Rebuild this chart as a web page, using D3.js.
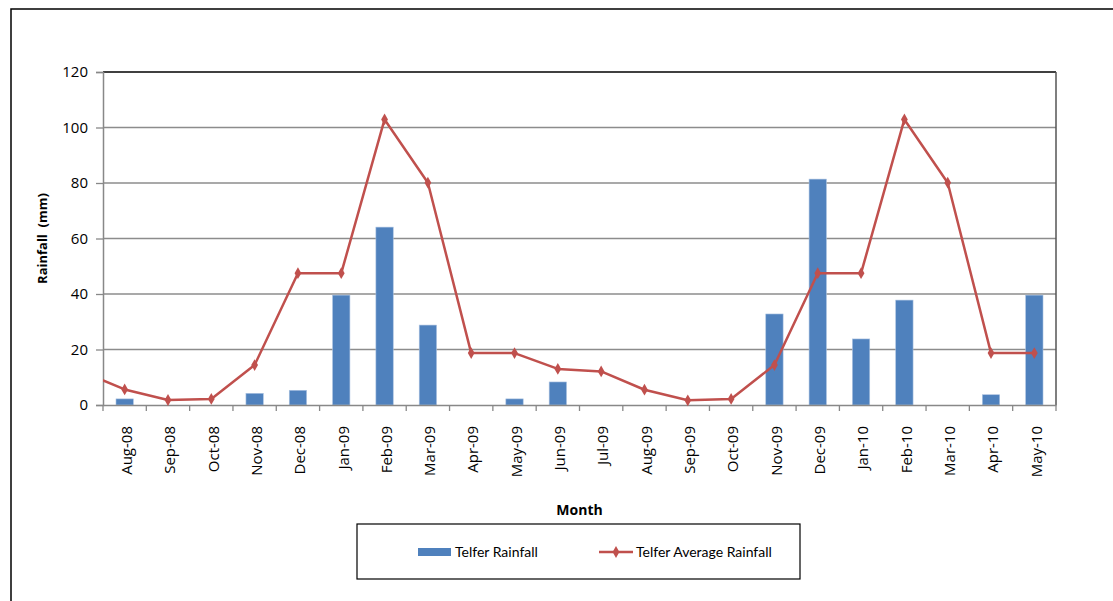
<!DOCTYPE html>
<html><head><meta charset="utf-8">
<script src="https://cdn.jsdelivr.net/npm/d3@7"></script>
<style>
html,body{margin:0;padding:0;background:#fff;}
svg{display:block;font-family:Lato,"Open Sans",sans-serif;}
</style></head>
<body>
<script>
const months = ["Aug-08","Sep-08","Oct-08","Nov-08","Dec-08","Jan-09","Feb-09","Mar-09","Apr-09","May-09","Jun-09","Jul-09","Aug-09","Sep-09","Oct-09","Nov-09","Dec-09","Jan-10","Feb-10","Mar-10","Apr-10","May-10"];
const telferRainfall = [2.2,0,0,4.2,5.3,39.6,64.1,28.8,0,2.2,8.3,0,0,0,0,32.8,81.4,23.8,37.8,0,3.7,39.6];
// average series includes one leading month (Jul-08) that falls outside the plot and is clipped
const avgMonths = ["Jul-08"].concat(months);
const telferAverage = [12.1,5.6,1.8,2.2,14.4,47.5,47.5,102.9,80.1,18.7,18.7,13.0,12.1,5.5,1.7,2.2,14.4,47.5,47.5,102.9,80.1,18.7,18.7];
const yTicks = [0,20,40,60,80,100,120];
const seriesNames = ["Telfer Rainfall","Telfer Average Rainfall"];

const W = 1113, H = 601;
const m = {left:103, top:72, right:1056, bottom:405};
const svg = d3.select("body").append("svg").attr("width",W).attr("height",H);

// outer chart border
svg.append("rect").attr("x",11).attr("y",9).attr("width",W+20).attr("height",H+20)
  .attr("fill","none").attr("stroke","#000").attr("stroke-width",1.5);

const x = d3.scaleBand().domain(months).range([m.left,m.right]).padding(0);
const xi = d3.scaleLinear().domain([-0.5, months.length-0.5]).range([m.left,m.right]);
const y = d3.scaleLinear().domain([0,120]).range([m.bottom,m.top]);

// gridlines
svg.append("g").selectAll("line").data(yTicks.filter(d=>d>0&&d<120)).join("line")
  .attr("x1",m.left).attr("x2",m.right).attr("y1",d=>y(d)).attr("y2",d=>y(d))
  .attr("stroke","#8c8c8c").attr("stroke-width",1.3);

// plot border top (black) and right (dark gray)
svg.append("line").attr("x1",m.left).attr("x2",m.right).attr("y1",y(120)).attr("y2",y(120))
  .attr("stroke","#000").attr("stroke-width",1.5);
svg.append("line").attr("x1",m.right).attr("x2",m.right).attr("y1",m.top).attr("y2",m.bottom)
  .attr("stroke","#555").attr("stroke-width",1.5);

// bars
const bw = x.bandwidth()*0.4;
svg.append("g").selectAll("rect").data(months).join("rect")
  .attr("x",(d)=>x(d)+x.bandwidth()/2-bw/2)
  .attr("y",(d,i)=>y(telferRainfall[i]))
  .attr("width",bw)
  .attr("height",(d,i)=>y(0)-y(telferRainfall[i]))
  .attr("fill","#4F81BD").attr("stroke","#a9c1e0").attr("stroke-width",0.6)
  .attr("display",(d,i)=>telferRainfall[i]>0?null:"none");

// y axis
const yAxis = svg.append("g").attr("transform",`translate(${m.left},0)`)
  .call(d3.axisLeft(y).tickValues(yTicks).tickSize(7).tickPadding(8));
yAxis.select(".domain").attr("stroke","#888").attr("stroke-width",1.5);
yAxis.selectAll(".tick line").attr("stroke","#888").attr("stroke-width",1.3);
yAxis.selectAll(".tick text").attr("font-size",15).attr("fill","#000").attr("font-family","Open Sans");

// x axis
const xAxis = svg.append("g").attr("transform",`translate(0,${m.bottom})`)
  .call(d3.axisBottom(x).tickSize(0));
xAxis.select(".domain").attr("stroke","#888").attr("stroke-width",1.5);
xAxis.selectAll(".tick text").attr("font-size",15).attr("fill","#000").attr("font-family","Open Sans")
  .attr("transform","rotate(-90)").attr("text-anchor","end").attr("dy","0.35em")
  .attr("x",-21).attr("y",2);
// boundary ticks
svg.append("g").selectAll("line").data(d3.range(months.length+1)).join("line")
  .attr("x1",d=>xi(d-0.5)).attr("x2",d=>xi(d-0.5)).attr("y1",m.bottom).attr("y2",m.bottom+6)
  .attr("stroke","#888").attr("stroke-width",1.3);

// clip
svg.append("clipPath").attr("id","clip").append("rect")
  .attr("x",m.left).attr("y",m.top-10).attr("width",m.right-m.left).attr("height",m.bottom-m.top+20);

// line
const lg = svg.append("g").attr("clip-path","url(#clip)");
const line = d3.line().x((d,i)=>xi(i-1)).y(d=>y(d));
lg.append("path").datum(telferAverage).attr("d",line)
  .attr("fill","none").attr("stroke","#C0504D").attr("stroke-width",2.5).attr("stroke-linejoin","round");
const sym = d3.symbol().type(d3.symbolDiamond).size(40);
lg.selectAll("path.mk").data(telferAverage).join("path").attr("class","mk")
  .attr("d",sym).attr("transform",(d,i)=>`translate(${xi(i-1)},${y(d)})`)
  .attr("fill","#C0504D");

// axis titles
svg.append("text").attr("transform",`translate(47,${(m.top+m.bottom)/2}) rotate(-90)`)
  .attr("text-anchor","middle").attr("font-size",13).attr("font-weight","bold")
  .attr("font-family","Open Sans").attr("xml:space","preserve").style("white-space","pre").text("Rainfall  (mm)");
svg.append("text").attr("x",(m.left+m.right)/2).attr("y",515)
  .attr("text-anchor","middle").attr("font-size",14).attr("font-weight","bold")
  .attr("font-family","Open Sans").text("Month");

// legend
const leg = svg.append("g");
leg.append("rect").attr("x",357).attr("y",524).attr("width",443).attr("height",55)
  .attr("fill","#fff").attr("stroke","#000").attr("stroke-width",1.2);
leg.append("rect").attr("x",418).attr("y",548).attr("width",33).attr("height",8).attr("fill","#4F81BD");
leg.append("text").attr("x",455).attr("y",557).attr("font-size",14).text(seriesNames[0]);
leg.append("line").attr("x1",599).attr("x2",633).attr("y1",552).attr("y2",552)
  .attr("stroke","#C0504D").attr("stroke-width",2.5);
leg.append("path").attr("d",sym).attr("transform","translate(616,552)").attr("fill","#C0504D");
leg.append("text").attr("x",636).attr("y",557).attr("font-size",14).text(seriesNames[1]);
</script>
</body></html>
